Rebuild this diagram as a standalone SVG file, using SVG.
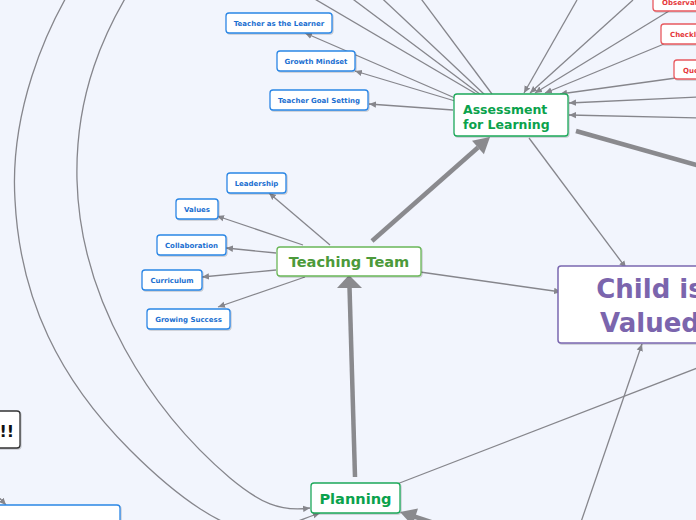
<svg xmlns="http://www.w3.org/2000/svg" width="696" height="520" viewBox="0 0 696 520">
<defs>
<marker id="ah" markerWidth="8" markerHeight="8" refX="7" refY="4" orient="auto" markerUnits="userSpaceOnUse">
<path d="M0,0.8 L7,4 L0,7.2 Z" fill="#86868c"/>
</marker>
<filter id="sh" x="-10%" y="-10%" width="130%" height="140%">
<feDropShadow dx="1" dy="1" stdDeviation="0.6" flood-color="#000" flood-opacity="0.18"/>
</filter>
</defs>
<style>
.bg{fill:#f2f5fd}
.ln{fill:none;stroke:#86868c;stroke-width:1.3}
.la{fill:none;stroke:#86868c;stroke-width:1.3;marker-end:url(#ah)}
.thick{fill:none;stroke:#8a8a8e;stroke-width:4.5}
.head{fill:#8a8a8e}
.blue rect{fill:#fff;stroke:#2a86e5;stroke-width:1.3;filter:url(#sh)}
.blue text{font-family:"DejaVu Sans",Verdana,sans-serif;font-weight:bold;font-size:7px;fill:#1b6fd1;text-anchor:middle}
.red rect{fill:#fff;stroke:#e85a5f;stroke-width:1.3;filter:url(#sh)}
.red text{font-family:"DejaVu Sans",Verdana,sans-serif;font-weight:bold;font-size:7px;fill:#e5383b}
.green rect{fill:#fff;stroke:#1ea85a;stroke-width:1.3;filter:url(#sh)}
.green text{font-family:"DejaVu Sans",Verdana,sans-serif;font-weight:bold;fill:#0ba24c}
.tt rect{fill:#fff;stroke:#6ab658;stroke-width:1.3;filter:url(#sh)}
.tt text{font-family:"DejaVu Sans",Verdana,sans-serif;font-weight:bold;font-size:14.6px;fill:#4c9a3a;text-anchor:middle}
.child rect{fill:#fff;stroke:#7b68b0;stroke-width:1.5;filter:url(#sh)}
.child text{font-family:"DejaVu Sans",Verdana,sans-serif;font-weight:bold;font-size:26px;fill:#7b65ad;text-anchor:middle}
</style>
<rect class="bg" x="0" y="0" width="696" height="520"/>

<g id="connectors">
<!-- big curves on left -->
<path class="la" d="M 90 -40 C 40 30, 10 120, 15 200 C 20 300, 60 380, 130 450 C 170 490, 230 540, 270 530 C 290 525, 305 518, 320 513"/>
<path class="la" d="M 150 -40 C 100 30, 75 100, 77 180 C 80 300, 150 410, 230 478 C 260 503, 280 512, 310 508"/>
<!-- assessment to upper-left offscreen -->
<line class="ln" x1="478" y1="95" x2="296" y2="-12"/>
<line class="ln" x1="481" y1="95" x2="338" y2="-12"/>
<line class="ln" x1="485" y1="95" x2="371" y2="-12"/>
<line class="ln" x1="492" y1="94" x2="413" y2="-12"/>
<!-- assessment to blue nodes -->
<line class="la" x1="455" y1="98" x2="305" y2="33"/>
<line class="la" x1="455" y1="101" x2="355" y2="71"/>
<line class="la" x1="453" y1="110" x2="369" y2="104"/>
<!-- into assessment from right/top -->
<line class="la" x1="577" y1="0" x2="524" y2="93"/>
<line class="la" x1="633" y1="0" x2="530" y2="93"/>
<line class="la" x1="669" y1="11" x2="535" y2="93"/>
<line class="la" x1="664" y1="44" x2="545" y2="93"/>
<line class="la" x1="676" y1="78" x2="560" y2="94"/>
<line class="la" x1="700" y1="97" x2="569" y2="103"/>
<line class="la" x1="700" y1="118" x2="569" y2="115"/>
<!-- teaching team to blue nodes -->
<line class="la" x1="330" y1="245" x2="269" y2="193"/>
<line class="la" x1="303" y1="245" x2="217" y2="216"/>
<line class="la" x1="276" y1="253" x2="226" y2="248"/>
<line class="la" x1="276" y1="270" x2="202" y2="277"/>
<line class="la" x1="305" y1="277" x2="218" y2="307"/>
<!-- to child -->
<line class="la" x1="529" y1="138" x2="626" y2="268"/>
<line class="la" x1="420" y1="272" x2="561" y2="292"/>
<line class="la" x1="581" y1="522" x2="642" y2="344"/>
<line class="ln" x1="397" y1="484" x2="700" y2="367"/>
<!-- bottom-left small arrow -->
<line class="la" x1="-6" y1="492" x2="6" y2="505"/>
<!-- thick connectors -->
<line class="thick" x1="372" y1="241" x2="478" y2="147.5"/>
<polygon class="head" points="490,137 483.9,154.3 472,140.7"/>
<line class="thick" x1="355" y1="477" x2="349.5" y2="287"/>
<polygon class="head" points="349,275 362,288 337,288"/>
<line class="thick" x1="462" y1="532" x2="414" y2="516.5"/>
<polygon class="head" points="400,512 418,508.5 412.4,525.5"/>
<line class="thick" x1="576" y1="131" x2="700" y2="166"/>
</g>

<g id="teacher-as-learner" class="blue"><rect x="226" y="13" width="106" height="20" rx="3"/><text x="279" y="26">Teacher as the Learner</text></g>
<g id="growth-mindset" class="blue"><rect x="277" y="51" width="78" height="20" rx="3"/><text x="316" y="64">Growth Mindset</text></g>
<g id="teacher-goal-setting" class="blue"><rect x="270" y="90" width="98" height="20" rx="3"/><text x="319" y="103">Teacher Goal Setting</text></g>
<g id="leadership" class="blue"><rect x="227" y="173" width="59" height="20" rx="3"/><text x="256.5" y="185.5">Leadership</text></g>
<g id="values" class="blue"><rect x="176" y="199" width="42" height="20" rx="3"/><text x="197" y="211.5">Values</text></g>
<g id="collaboration" class="blue"><rect x="157" y="235" width="69" height="20" rx="3"/><text x="191.5" y="247.5">Collaboration</text></g>
<g id="curriculum" class="blue"><rect x="142" y="270" width="60" height="20" rx="3"/><text x="172" y="282.5">Curriculum</text></g>
<g id="growing-success" class="blue"><rect x="147" y="309" width="83" height="20" rx="3"/><text x="188.5" y="321.5">Growing Success</text></g>
<g id="bottom-left-node" class="blue"><rect x="-20" y="505" width="140" height="30" rx="3"/></g>

<g id="observation" class="red"><rect x="653" y="-9" width="80" height="20" rx="3"/><text x="662" y="5">Observation</text></g>
<g id="checklist" class="red"><rect x="661" y="24" width="80" height="20" rx="3"/><text x="670" y="37">Checklists</text></g>
<g id="questioning" class="red"><rect x="674" y="60" width="80" height="19" rx="3"/><text x="683" y="72.5">Questioning</text></g>

<g id="assessment" class="green"><rect x="454" y="94" width="114" height="42" rx="3"/><text font-size="12.5" x="463" y="113.5">Assessment</text><text font-size="12.5" x="463" y="128.5">for Learning</text></g>
<g id="teaching-team" class="tt"><rect x="277" y="247" width="144" height="29" rx="3"/><text x="349" y="267">Teaching Team</text></g>
<g id="planning" class="green"><rect x="311" y="483" width="89" height="30" rx="3"/><text font-size="14.6" x="355.5" y="504" text-anchor="middle">Planning</text></g>
<g id="child-valued" class="child"><rect x="558" y="266" width="184" height="77" rx="3"/><text x="650" y="298">Child is</text><text x="650" y="332">Valued</text></g>
<g id="exclaim"><rect x="-30" y="411" width="50" height="37" rx="3" fill="#fff" stroke="#333" stroke-width="1.3" filter="url(#sh)"/><text x="14" y="437" text-anchor="end" font-family="DejaVu Sans,Verdana,sans-serif" font-weight="bold" font-size="16" fill="#111">!!</text></g>
</svg>
